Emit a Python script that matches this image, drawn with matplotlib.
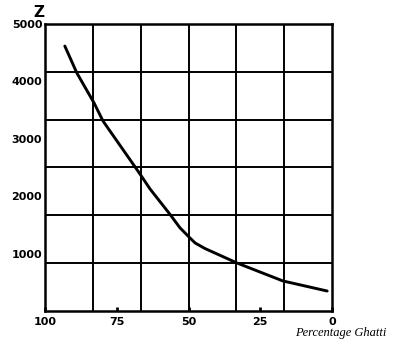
import numpy as np
from matplotlib import pyplot as plt

# curve: percentage ghatti vs Z
ghatti = [93.1, 88.9, 82.9, 79.8, 68.6, 66.2, 63.4, 56.4, 53.0, 49.5,
          47.7, 44.3, 40.8, 33.1, 25.1, 17.1, 1.7]
z_vals = [4616, 4146, 3623, 3310, 2508, 2334, 2125, 1680, 1450, 1272,
          1185, 1089, 1010, 836, 679, 523, 348]

x_ticks = [100, 75, 50, 25, 0]
x_labels = ['100', '75', '50', '25', '0']
y_ticks = [1000, 2000, 3000, 4000, 5000]
y_labels = ['1000', '2000', '3000', '4000', '5000']

fig = plt.figure(dpi=100, figsize=(3.97, 3.53))
ax = fig.add_axes([0.1134, 0.119, 0.723, 0.813])

ax.set_xlim(100, 0)
ax.set_ylim(0, 5000)

# grid: six squares each way, independent of the labels
for gx in np.linspace(0, 100, 7)[1:-1]:
    ax.axvline(gx, color='black', lw=1.4, zorder=1)
for gy in np.linspace(0, 5000, 7)[1:-1]:
    ax.axhline(gy, color='black', lw=1.4, zorder=1)

ax.plot(ghatti, z_vals, c='black', lw=2.1, solid_capstyle='round',
        solid_joinstyle='round', zorder=3)

ax.set_xticks(x_ticks)
ax.set_xticklabels(x_labels, fontweight='bold', fontsize=8)
ax.set_yticks(y_ticks)
ax.set_yticklabels(y_labels, fontweight='bold', fontsize=8)
ax.tick_params(axis='x', direction='in', length=3, width=2, pad=4)
ax.tick_params(axis='y', length=0, pad=2)

for side in ax.spines.values():
    side.set_linewidth(1.8)

ax.text(-0.02, 1.015, 'Z', transform=ax.transAxes, ha='center', va='bottom',
        fontsize=11, fontweight='bold')
ax.text(1.19, -0.075, 'Percentage Ghatti', transform=ax.transAxes, ha='right',
        va='center', fontsize=9, fontstyle='italic', family='Liberation Serif')

fig.savefig('out.png', dpi=100)
